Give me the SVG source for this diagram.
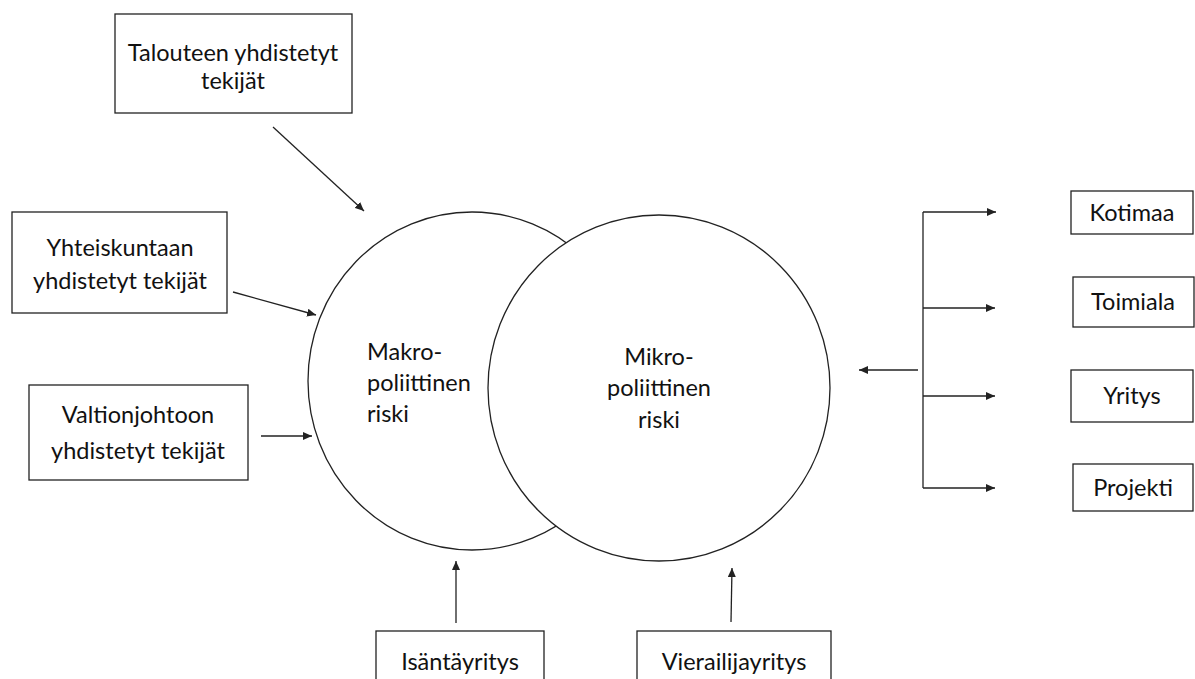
<svg xmlns="http://www.w3.org/2000/svg" width="1195" height="679" viewBox="0 0 1195 679">
<style>
.box{fill:#fff;stroke:#222;stroke-width:1.3}
.circ{fill:#fff;stroke:#222;stroke-width:1.3}
.t{font-family:Lato,"Open Sans","Liberation Sans",sans-serif;font-size:23.5px;fill:#111;text-anchor:middle}
.tl{text-anchor:start}
.c{stroke:#222;stroke-width:1.3;fill:none}
.a{marker-end:url(#ah)}
</style>
<defs>
<marker id="ah" markerUnits="userSpaceOnUse" markerWidth="10" markerHeight="8" refX="9" refY="4" orient="auto">
<path d="M0,0 L9,4 L0,8 Z" fill="#222"/>
</marker>
</defs>
<rect width="1195" height="679" fill="#fff"/>
<g id="macro">
<ellipse class="circ" cx="472" cy="381" rx="164" ry="169"/>
</g>
<g id="micro">
<ellipse class="circ" cx="659" cy="388" rx="171" ry="173"/>
<text class="t" x="659" y="365">Mikro-</text>
<text class="t" x="659" y="396">poliittinen</text>
<text class="t" x="659" y="428">riski</text>
</g>
<g id="macro-label">
<text class="t tl" x="367" y="360">Makro-</text>
<text class="t tl" x="367" y="391">poliittinen</text>
<text class="t tl" x="367" y="422">riski</text>
</g>
<g id="talouteen">
<rect class="box" x="115" y="14" width="237" height="99"/>
<text class="t" x="233" y="61">Talouteen yhdistetyt</text>
<text class="t" x="233" y="89">tekijät</text>
</g>
<g id="yhteiskuntaan">
<rect class="box" x="12" y="212" width="215" height="101"/>
<text class="t" x="120" y="256">Yhteiskuntaan</text>
<text class="t" x="120" y="289">yhdistetyt tekijät</text>
</g>
<g id="valtionjohtoon">
<rect class="box" x="29" y="385" width="219" height="95"/>
<text class="t" x="138" y="423">Valtionjohtoon</text>
<text class="t" x="138" y="459">yhdistetyt tekijät</text>
</g>
<g id="kotimaa">
<rect class="box" x="1071" y="191" width="122" height="43"/>
<text class="t" x="1132" y="221">Kotimaa</text>
</g>
<g id="toimiala">
<rect class="box" x="1073" y="277" width="121" height="50"/>
<text class="t" x="1133" y="310">Toimiala</text>
</g>
<g id="yritys">
<rect class="box" x="1071" y="370" width="122" height="52"/>
<text class="t" x="1132" y="404">Yritys</text>
</g>
<g id="projekti">
<rect class="box" x="1073" y="464" width="120" height="47"/>
<text class="t" x="1133" y="496">Projekti</text>
</g>
<g id="isantayritys">
<rect class="box" x="376" y="631" width="168" height="60"/>
<text class="t" x="460" y="670">Isäntäyritys</text>
</g>
<g id="vierailijayritys">
<rect class="box" x="637" y="631" width="194" height="60"/>
<text class="t" x="734" y="670">Vierailijayritys</text>
</g>
<g id="connectors">
<line class="c a" x1="273" y1="127" x2="364" y2="211"/>
<line class="c a" x1="233" y1="292" x2="316" y2="315"/>
<line class="c a" x1="261" y1="436" x2="312" y2="436"/>
<line class="c a" x1="456" y1="623" x2="456" y2="561"/>
<line class="c a" x1="731" y1="622" x2="732" y2="568"/>
<line class="c a" x1="918" y1="370" x2="859" y2="370"/>
<line class="c" x1="923" y1="212" x2="923" y2="488"/>
<line class="c a" x1="923" y1="212" x2="996" y2="212"/>
<line class="c a" x1="923" y1="308" x2="995" y2="308"/>
<line class="c a" x1="923" y1="396" x2="995" y2="396"/>
<line class="c a" x1="923" y1="488" x2="995" y2="488"/>
</g>
</svg>
